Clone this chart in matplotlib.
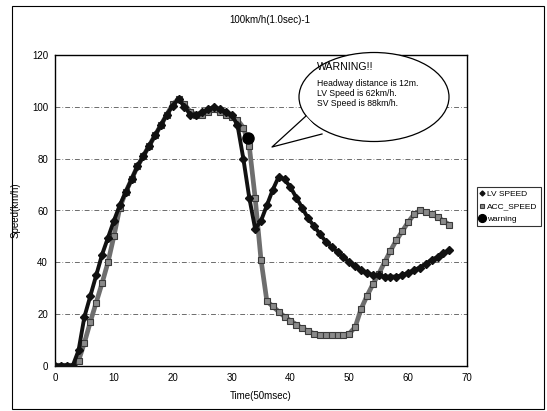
import numpy as np
import matplotlib
matplotlib.use("Agg")
import matplotlib.pyplot as plt
from matplotlib.patches import Ellipse, Polygon, Rectangle
from matplotlib.lines import Line2D

plt.rcParams["font.family"] = ["Liberation Sans", "DejaVu Sans"]

# time axis in 50 msec units
time = list(range(0, 68))
lv_speed = [0, 0, 0, 0, 6, 19, 27, 35, 43, 49.5, 56, 62, 67, 72, 77, 81,
            85, 89, 93, 97, 100.5, 103, 100, 97, 97, 98, 99, 100, 99, 98,
            97, 93, 80, 65, 53, 56, 62, 68, 73, 72, 69, 65, 61, 57, 54, 51,
            48, 46, 44, 42, 40, 38.5, 37, 36, 35, 35, 34.5, 34.5, 34.5, 35,
            36, 37, 38, 39.5, 41, 42, 43.5, 44.8]
acc_speed = [0, 0, 0, 0, 2, 9, 17, 24.5, 32, 40, 50, 61, 67, 72, 77, 81,
             85, 89, 93, 97, 101, 103, 101, 98, 97, 97, 98, 99, 98, 97,
             96, 95, 92, 85, 65, 41, 25, 23, 21, 19, 17.5, 16, 14.5, 13.5,
             12.5, 12, 12, 12, 12, 12, 12.5, 15, 22, 27, 31.5, 35.5, 40,
             44.5, 48.5, 52, 55.5, 58.5, 60, 59.5, 58.5, 57.5, 56, 54.5]
warn_time = [32.8]
warn_speed = [88]

title = "100km/h(1.0sec)-1"
bubble_lines = ["Headway distance is 12m.", "LV Speed is 62km/h.",
                "SV Speed is 88km/h."]

W, H = 547, 411
fig = plt.figure(figsize=(W / 100, H / 100), dpi=100)


def fx(px):
    return px / W


def fy(py):
    return 1 - py / H


ax = fig.add_axes([fx(55), fy(366), fx(467) - fx(55), fy(55) - fy(366)])

ax.plot(time, lv_speed, color="#111111", lw=2.8, marker="D", ms=3.6,
        mfc="#111111", mec="#111111", label="LV SPEED", zorder=3)
ax.plot(time, acc_speed, color="#6e6e6e", lw=3.4, marker="s", ms=4.6,
        mfc="#8a8a8a", mec="#3a3a3a", mew=0.8, label="ACC_SPEED", zorder=2)
ax.plot(warn_time, warn_speed, "o", color="black", ms=8, label="warning",
        zorder=4, linestyle="none")

ax.set_xlim(0, 70)
ax.set_ylim(0, 120)
ax.set_xticks(range(0, 71, 10))
ax.set_yticks(range(0, 121, 20))
ax.tick_params(length=0, labelsize=7, pad=5)
ax.yaxis.grid(True, color="#333333", lw=0.5, ls=(0, (7, 3, 1, 3)))
ax.set_axisbelow(True)
for s in ax.spines.values():
    s.set_linewidth(1.0)
ax.set_xlabel("Time(50msec)", fontsize=7, labelpad=6)
ax.set_ylabel("Speed(km/h)", fontsize=7, labelpad=8)

fig.text(fx(270), fy(20), title, fontsize=7, ha="center", va="center")

leg = ax.legend(loc="upper left", bbox_to_anchor=(fx(477), fy(187)),
                bbox_transform=fig.transFigure, frameon=True,
                fancybox=False, edgecolor="black", handlelength=0.4,
                handletextpad=0.4, borderpad=0.4, labelspacing=0.55,
                borderaxespad=0, markerscale=0.7,
                prop={"family": ["Liberation Sans Narrow", "Liberation Sans"],
                      "size": 6.0})
leg.get_frame().set_linewidth(0.8)
for h in leg.legend_handles:
    h.set_linewidth(0)

# speech bubble
ell = Ellipse((fx(374), fy(97)), fx(150), 89 / H, transform=fig.transFigure,
              facecolor="white", edgecolor="black", lw=0.9, zorder=10)
fig.add_artist(ell)
tail = [(fx(306), fy(116)), (fx(272), fy(147)), (fx(322), fy(134))]
fig.add_artist(Polygon(tail, closed=True, transform=fig.transFigure,
                       facecolor="white", edgecolor="none", zorder=11))
fig.add_artist(Line2D([p[0] for p in tail], [p[1] for p in tail],
                      transform=fig.transFigure, color="black", lw=0.9,
                      zorder=12))
fig.text(fx(317), fy(67), "WARNING!!", fontsize=7.6, va="center", zorder=13,
         family=["Liberation Sans Narrow", "Liberation Sans"])
for i, line in enumerate(bubble_lines):
    fig.text(fx(317), fy(83 + 10 * i), line, fontsize=6.2, va="center",
             zorder=13)

# outer frame
fig.add_artist(Rectangle((fx(12), fy(409)), fx(544) - fx(12), fy(6) - fy(409),
                         transform=fig.transFigure, fill=False,
                         edgecolor="black", lw=0.8))

fig.savefig("out.png", dpi=100)
